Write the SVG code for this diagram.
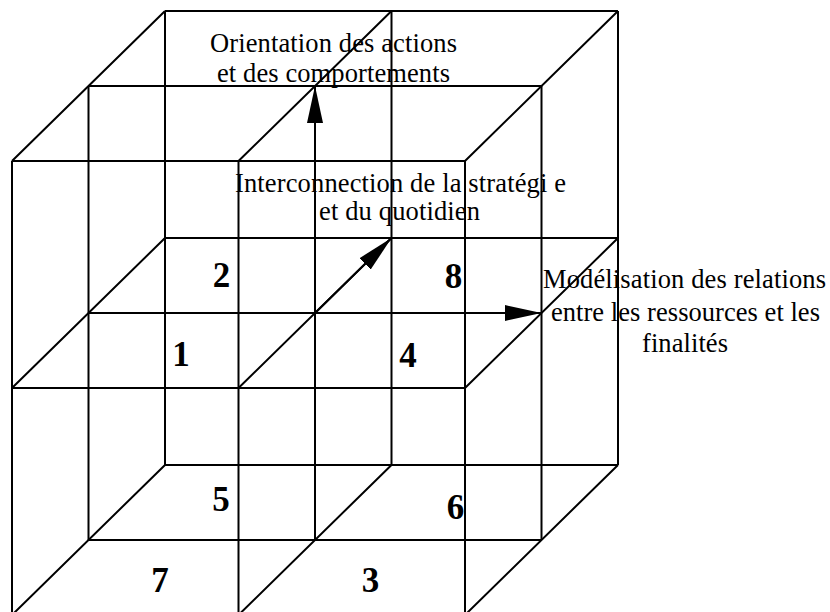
<svg xmlns="http://www.w3.org/2000/svg" width="830" height="612" viewBox="0 0 830 612">
<style>
.grid{fill:none;stroke:#000;stroke-width:2}
.arrow{fill:none;stroke:#000;stroke-width:2;marker-end:url(#ah)}
.lbl{font-family:"Liberation Serif","Times New Roman",serif;font-size:26.5px;fill:#000;text-anchor:middle}
.num{font-family:"Liberation Serif","Times New Roman",serif;font-size:35px;font-weight:bold;fill:#000;text-anchor:middle}
</style>
<defs>
<marker id="ah" markerUnits="userSpaceOnUse" markerWidth="40" markerHeight="20" viewBox="0 -10 40 20" refX="37" refY="0" orient="auto">
<path d="M0,-8 L37,0 L0,8 Z" fill="#000"/>
</marker>
</defs>
<rect width="830" height="612" fill="#fff"/>
<g id="lattice" class="grid">
<path d="M12 615H465 M12 388H465 M12 161H465 M88.5 540H541.5 M88.5 313H541.5 M88.5 86H541.5 M165 465H618 M165 238H618 M165 11H618"/>
<path d="M12 161V615 M238.5 161V615 M465 161V615 M88.5 86V540 M315 86V540 M541.5 86V540 M165 11V465 M391.5 11V465 M618 11V465"/>
<path d="M12 615L165 465 M238.5 615L391.5 465 M465 615L618 465 M12 388L165 238 M238.5 388L391.5 238 M465 388L618 238 M12 161L165 11 M238.5 161L391.5 11 M465 161L618 11"/>
</g>
<g id="connectors">
<line class="arrow" x1="315" y1="313" x2="315" y2="86"/>
<line class="arrow" x1="315" y1="313" x2="391.5" y2="238"/>
<line class="arrow" x1="315" y1="313" x2="541.5" y2="313"/>
</g>
<g id="label-orientation">
<text class="lbl" x="333.5" y="52" textLength="247" lengthAdjust="spacing">Orientation des actions</text>
<text class="lbl" x="333.5" y="82" textLength="233" lengthAdjust="spacing">et des comportements</text>
</g>
<g id="label-interconnection">
<text class="lbl" x="400.5" y="192" textLength="331" lengthAdjust="spacing">Interconnection de la stratégi e</text>
<text class="lbl" x="399.5" y="220" textLength="161" lengthAdjust="spacing">et du quotidien</text>
</g>
<g id="label-modelisation">
<text class="lbl" x="684.5" y="288" textLength="283" lengthAdjust="spacing">Modélisation des relations</text>
<text class="lbl" x="685.5" y="321" textLength="269" lengthAdjust="spacing">entre les ressources et les</text>
<text class="lbl" x="685" y="352" textLength="86" lengthAdjust="spacing">finalités</text>
</g>
<g id="cell-1"><text class="num" x="181" y="366">1</text></g>
<g id="cell-2"><text class="num" x="221.5" y="287">2</text></g>
<g id="cell-3"><text class="num" x="370.5" y="592">3</text></g>
<g id="cell-4"><text class="num" x="408" y="367">4</text></g>
<g id="cell-5"><text class="num" x="221" y="511">5</text></g>
<g id="cell-6"><text class="num" x="455.5" y="519">6</text></g>
<g id="cell-7"><text class="num" x="160" y="592">7</text></g>
<g id="cell-8"><text class="num" x="453.5" y="288">8</text></g>
</svg>
